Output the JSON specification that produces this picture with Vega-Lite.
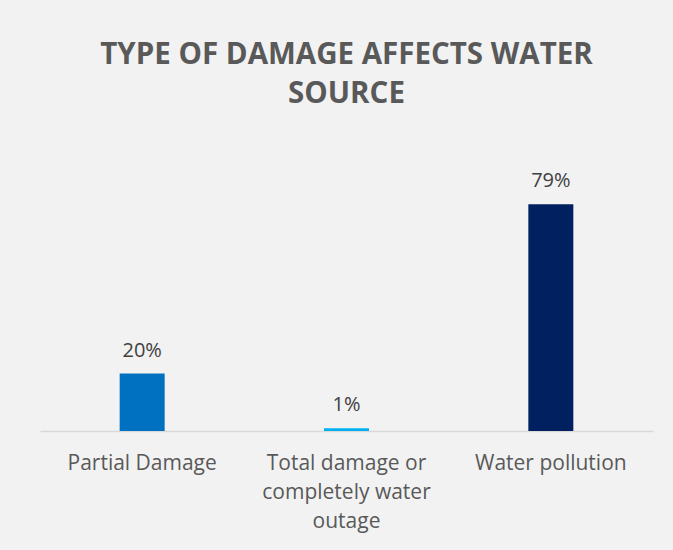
{
  "$schema": "https://vega.github.io/schema/vega-lite/v6.json",
  "width": 613,
  "height": 287,
  "padding": {"left": 40, "top": 39, "right": 20, "bottom": 21},
  "background": "#F2F2F2",
  "title": {
    "text": ["TYPE OF DAMAGE AFFECTS WATER", "SOURCE"],
    "font": "Open Sans",
    "fontSize": 29.5,
    "fontWeight": "bold",
    "color": "#595959",
    "lineHeight": 39,
    "offset": 35
  },
  "data": {
    "values": [
      {"type": "Partial Damage", "share": 0.20},
      {"type": "Total damage or completely water outage", "share": 0.01},
      {"type": "Water pollution", "share": 0.79}
    ]
  },
  "encoding": {
    "x": {
      "field": "type",
      "type": "nominal",
      "sort": null,
      "scale": {"paddingInner": 0, "paddingOuter": 0},
      "axis": {
        "title": null,
        "labelAngle": 0,
        "ticks": false,
        "domainColor": "#D9D9D9",
        "domainWidth": 1.5,
        "labelFont": "Open Sans",
        "labelFontSize": 21,
        "labelColor": "#595959",
        "labelPadding": 21,
        "labelLineHeight": 29,
        "labelLimit": 300,
        "labelExpr": "datum.value == 'Total damage or completely water outage' ? ['Total damage or', 'completely water', 'outage'] : datum.value"
      }
    },
    "y": {
      "field": "share",
      "type": "quantitative",
      "scale": {"domain": [0, 1]},
      "axis": null
    }
  },
  "layer": [
    {
      "mark": {"type": "bar", "size": 45},
      "encoding": {
        "color": {
          "field": "type",
          "type": "nominal",
          "scale": {
            "domain": ["Partial Damage", "Total damage or completely water outage", "Water pollution"],
            "range": ["#0070C0", "#00B0F0", "#002060"]
          },
          "legend": null
        }
      }
    },
    {
      "mark": {
        "type": "text",
        "baseline": "alphabetic",
        "dy": -17,
        "font": "Open Sans",
        "fontSize": 20,
        "color": "#404040"
      },
      "encoding": {
        "text": {"field": "share", "type": "quantitative", "format": ".0%"}
      }
    }
  ],
  "config": {"view": {"stroke": null}}
}
